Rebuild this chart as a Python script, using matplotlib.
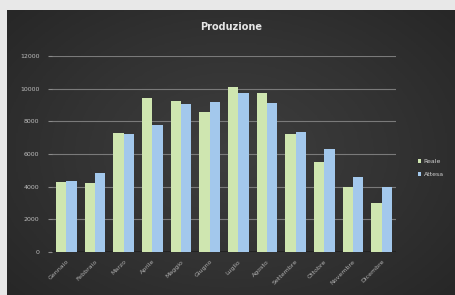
import matplotlib.pyplot as plt
import numpy as np
from matplotlib.colors import LinearSegmentedColormap

mesi = ['Gennaio', 'Febbraio', 'Marzo', 'Aprile', 'Maggio', 'Giugno',
        'Luglio', 'Agosto', 'Settembre', 'Ottobre', 'Novembre', 'Dicembre']
reale = [4300, 4200, 7300, 9450, 9270, 8600, 10100, 9750, 7230, 5500, 4000, 3000]
attesa = [4350, 4850, 7250, 7750, 9050, 9200, 9750, 9150, 7370, 6300, 4600, 3950]
serie = ['Reale', 'Attesa']
yticks = [0, 2000, 4000, 6000, 8000, 10000, 12000]

W, H = 456, 295
fig = plt.figure(figsize=(W / 100, H / 100), dpi=100, facecolor='#e8e8e8')

# dark chart area with a soft radial gradient
bg = fig.add_axes([7 / W, 0, 1 - 7 / W, 1 - 10 / H])
bg.set_zorder(-10)
gx, gy = np.meshgrid(np.linspace(-1, 1, 200), np.linspace(-1, 1, 130))
r = np.sqrt(gx ** 2 + (gy * 0.9) ** 2)
cmap = LinearSegmentedColormap.from_list('bg', ['#3e3e3e', '#333333', '#262626'])
bg.imshow(r, cmap=cmap, aspect='auto', extent=[0, 1, 0, 1], vmin=0, vmax=1.4)
bg.axis('off')

ax = fig.add_axes([52 / W, 43 / H, 344 / W, 196 / H])
ax.set_facecolor('none')

x = np.arange(len(mesi))
w = 0.36
ax.bar(x - w / 2, reale, w, color='#cfe6b0', edgecolor='none',
       label=serie[0], zorder=3)
ax.bar(x + w / 2, attesa, w, color='#a3c8ec', edgecolor='none',
       label=serie[1], zorder=3)

ax.set_ylim(0, 12000)
ax.set_xlim(-0.5, len(mesi) - 0.5)
ax.set_yticks(yticks)
ax.set_yticklabels([str(v) for v in yticks], fontsize=4.5, color='#bdbdbd')
ax.set_xticks(x)
ax.set_xticklabels(mesi, rotation=45, ha='right', rotation_mode='anchor',
                   fontsize=4.5, color='#b0b0b0')
ax.tick_params(axis='y', length=3, color='#8a8a8a', pad=6)
ax.tick_params(axis='x', length=0, pad=5)
ax.grid(axis='y', color='#7a7a7a', linewidth=0.8, zorder=0)
for s in ax.spines.values():
    s.set_visible(False)
ax.axhline(0, color='#222222', linewidth=1.5, zorder=2)

fig.text(231 / W, 1 - 27 / H, 'Produzione', ha='center', va='center',
         fontsize=7, fontweight='bold', color='#e6e6e6')

fig.legend(loc='center left', bbox_to_anchor=(412 / W, 1 - 168 / H), frameon=False,
           fontsize=4.5, labelcolor='#cfcfcf', handlelength=0.6, handleheight=0.6,
           handletextpad=0.4, labelspacing=1.2)

fig.savefig('out.png', dpi=100, facecolor=fig.get_facecolor())
